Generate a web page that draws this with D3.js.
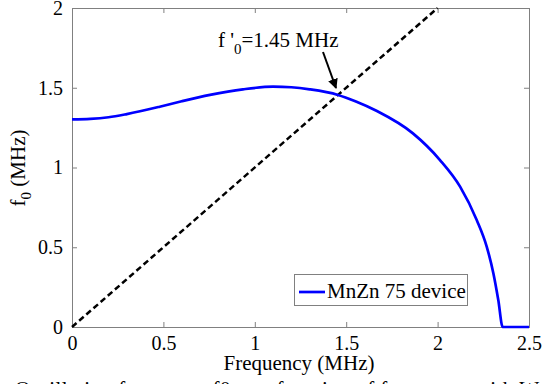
<!DOCTYPE html>
<html>
<head>
<meta charset="utf-8">
<script src="https://cdn.jsdelivr.net/npm/d3@7"></script>
<style>
  body { margin: 0; background: #fff; }
</style>
</head>
<body>
<div class="chart"></div>
<script>
var w = 543;
var h = 384;

// values
var freq = [0, 0.1, 0.2, 0.3, 0.48, 0.6, 0.755, 0.935, 1.1, 1.2, 1.3, 1.455, 1.55, 1.668, 1.865, 2.013, 2.123, 2.214, 2.269, 2.305, 2.332, 2.356, 2.5];
var f0 = [1.302, 1.305, 1.315, 1.335, 1.381, 1.415, 1.455, 1.49, 1.507, 1.503, 1.49, 1.455, 1.415, 1.354, 1.214, 1.047, 0.88, 0.671, 0.503, 0.337, 0.169, 0, 0];
var refX = [0, 2];
var refY = [0, 2];
var xTicks = [0, 0.5, 1, 1.5, 2, 2.5];
var yTicks = [0, 0.5, 1, 1.5, 2];

var font = "'Liberation Serif', 'Times New Roman', Tinos, 'DejaVu Serif', serif";

var svg = d3.select(".chart").append("svg")
    .attr("width", w)
    .attr("height", h)
    .style("font-family", font);

var x = d3.scaleLinear().domain([0, 2.5]).range([72, 529]);
var y = d3.scaleLinear().domain([0, 2]).range([327, 8]);

var axisColor = "#808080";

svg.append("defs").append("marker")
    .attr("id", "head")
    .attr("viewBox", "0 0 10 10")
    .attr("refX", 9).attr("refY", 5)
    .attr("markerWidth", 5).attr("markerHeight", 5)
    .attr("orient", "auto")
  .append("path")
    .attr("d", "M0,0 L10,5 L0,10 z")
    .attr("fill", "#000");

// box with inward ticks, like matlab
function styleAxis(g) {
  g.attr("font-family", font).attr("font-size", 20);
  g.select(".domain").attr("stroke", axisColor);
  g.selectAll(".tick line").attr("stroke", axisColor);
  g.selectAll(".tick text").attr("fill", "#000");
}

svg.append("g")
    .attr("transform", "translate(0," + y(0) + ")")
    .call(d3.axisBottom(x).tickValues(xTicks).tickSize(-5).tickPadding(8).tickFormat(d3.format("")))
    .call(styleAxis)
    .selectAll(".tick text").attr("dy", "0.75em");

svg.append("g")
    .attr("transform", "translate(0," + y(2) + ")")
    .call(d3.axisTop(x).tickValues(xTicks).tickSize(-5).tickFormat(""))
    .call(styleAxis);

svg.append("g")
    .attr("transform", "translate(" + x(0) + ",0)")
    .call(d3.axisLeft(y).tickValues(yTicks).tickSize(-5).tickPadding(9).tickFormat(d3.format("")))
    .call(styleAxis);

svg.append("g")
    .attr("transform", "translate(" + x(2.5) + ",0)")
    .call(d3.axisRight(y).tickValues(yTicks).tickSize(-5).tickFormat(""))
    .call(styleAxis);

var line = d3.line()
    .x(function(d) { return x(d[0]); })
    .y(function(d) { return y(d[1]); });

svg.append("path")
    .datum(d3.zip(refX, refY))
    .attr("d", line)
    .attr("fill", "none")
    .attr("stroke", "#000")
    .attr("stroke-width", 2.5)
    .attr("stroke-dasharray", "6,3.5");

svg.append("path")
    .datum(d3.zip(freq, f0))
    .attr("d", line.curve(d3.curveMonotoneX))
    .attr("fill", "none")
    .attr("stroke", "#0000ff")
    .attr("stroke-width", 2.7);

// annotation
var ann = svg.append("text")
    .attr("font-family", font)
    .attr("x", 218).attr("y", 47)
    .attr("font-size", 21);
ann.append("tspan").text("f '");
ann.append("tspan").attr("font-size", 15).attr("dy", 7).text("0");
ann.append("tspan").attr("dy", -7).text("=1.45 MHz");

svg.append("line")
    .attr("x1", 323).attr("y1", 52)
    .attr("x2", 336).attr("y2", 88)
    .attr("stroke", "#000")
    .attr("stroke-width", 2)
    .attr("marker-end", "url(#head)");

// legend
svg.append("rect")
    .attr("x", 294.5).attr("y", 274.5)
    .attr("width", 173).attr("height", 31)
    .attr("fill", "#fff")
    .attr("stroke", axisColor);
svg.append("line")
    .attr("x1", 299).attr("x2", 325)
    .attr("y1", 292).attr("y2", 292)
    .attr("stroke", "#0000ff")
    .attr("stroke-width", 2.7);
svg.append("text")
    .attr("font-family", font)
    .attr("x", 327).attr("y", 298)
    .attr("font-size", 21)
    .text("MnZn 75 device");

// axis labels
svg.append("text")
    .attr("font-family", font)
    .attr("x", 299).attr("y", 370)
    .attr("text-anchor", "middle")
    .attr("font-size", 21)
    .text("Frequency (MHz)");

var yl = svg.append("text")
    .attr("font-family", font)
    .attr("transform", "translate(25,168) rotate(-90)")
    .attr("text-anchor", "middle")
    .attr("font-size", 21);
yl.append("tspan").text("f");
yl.append("tspan").attr("font-size", 15).attr("dy", 6).text("0");
yl.append("tspan").attr("dy", -6).text(" (MHz)");

// caption cut by the bottom edge
svg.append("text")
    .attr("font-family", font)
    .attr("x", 15).attr("y", 396)
    .attr("font-size", 21)
    .attr("textLength", 524)
    .attr("lengthAdjust", "spacing")
    .text("Oscillation frequency f0 as a function of frequency with W");
</script>
</body>
</html>
